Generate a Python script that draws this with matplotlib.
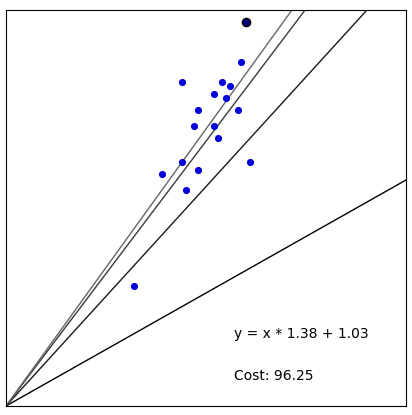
import matplotlib.pyplot as plt

# scatter points (pixel-like units from the origin of the box)
xs = [240, 235, 176, 216, 224, 208, 220, 192, 232, 188, 208, 212, 176, 244, 156, 192, 180, 128]
ys = [384, 344, 324, 324, 320, 312, 308, 296, 296, 280, 280, 268, 244, 244, 232, 236, 216, 120]
# regression line slopes tried so far, and their colours
slopes = [0.565, 1.097, 1.324, 1.385]
line_colors = ["#000000", "#1a1a1a", "#3a3a3a", "#666666"]
W, H = 400, 396

fig = plt.figure(figsize=(4.12, 4.15), dpi=100)
ax = fig.add_axes([6 / 412, 9 / 415, 400 / 412, 396 / 415])
ax.set_xlim(0, W)
ax.set_ylim(0, H)
ax.set_xticks([])
ax.set_yticks([])

for m, c in zip(slopes, line_colors):
    x_end = min(W, H / m)
    ax.plot([0, x_end], [0, m * x_end], color=c, linewidth=1.0)

ax.scatter(xs[1:], ys[1:], s=17, color="#0000dd", zorder=3)
ax.scatter(xs[:1], ys[:1], s=34, color="#000080", edgecolor="black", linewidth=1.1, zorder=3)

ax.text(228, 72, "y = x * 1.38 + 1.03", fontsize=10, va="center")
ax.text(228, 30, "Cost: 96.25", fontsize=10, va="center")

fig.savefig("out.png", dpi=100)
